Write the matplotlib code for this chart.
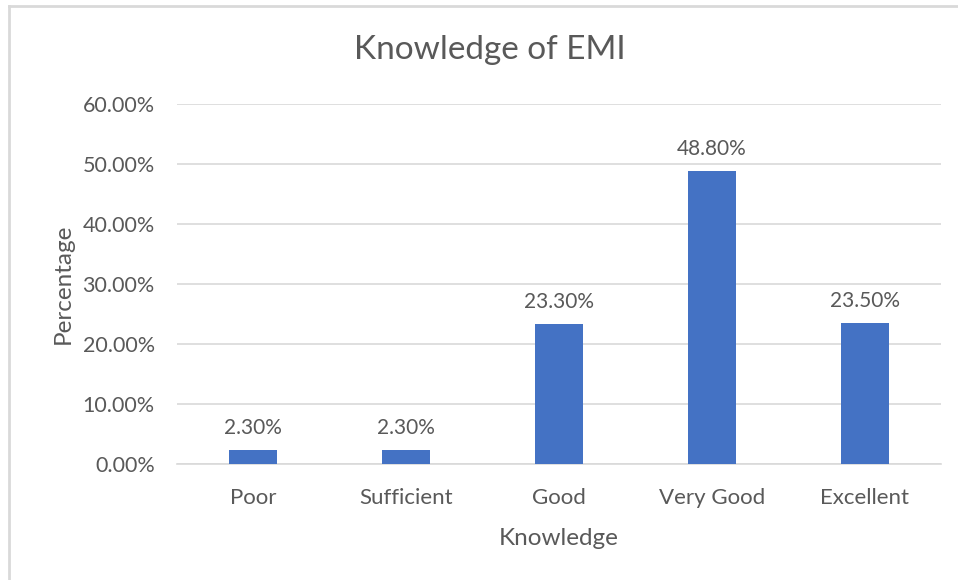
import matplotlib.pyplot as plt
from matplotlib.lines import Line2D
from matplotlib.ticker import FuncFormatter

categories = ["Poor", "Sufficient", "Good", "Very Good", "Excellent"]
values = [2.3, 2.3, 23.3, 48.8, 23.5]
yticks = [0, 10, 20, 30, 40, 50, 60]

plt.rcParams['font.family'] = ['Lato', 'DejaVu Sans']
grey = '#595959'

fig = plt.figure(figsize=(9.58, 5.8), dpi=100)
ax = fig.add_axes([177 / 958, 1 - 464 / 580, (941 - 177) / 958, (464 - 104) / 580])

x = range(len(categories))
bars = ax.bar(x, values, width=0.314, color='#4472C4', zorder=3)
for b, v in zip(bars, values):
    ax.text(b.get_x() + b.get_width() / 2, v + 2.0, f"{v:.2f}%",
            ha='center', va='bottom', fontsize=15, color=grey)

ax.set_xlim(-0.5, len(categories) - 0.5)
ax.set_ylim(0, 60)
ax.set_yticks(yticks)
ax.yaxis.set_major_formatter(FuncFormatter(lambda v, p: f"{v:.2f}%"))
ax.set_xticks(list(x))
ax.set_xticklabels(categories)
ax.tick_params(axis='both', length=0, labelsize=15.5, colors=grey)
ax.tick_params(axis='x', labelsize=16, pad=17)
ax.tick_params(axis='y', pad=16)
ax.grid(axis='y', color='#d9d9d9', lw=1.2, zorder=0)
for s in ['top', 'right', 'left']:
    ax.spines[s].set_visible(False)
ax.spines['bottom'].set_color('#d9d9d9')
ax.spines['bottom'].set_linewidth(1.2)

ax.set_xlabel("Knowledge", fontsize=17.5, color=grey, labelpad=15)
ax.set_ylabel("Percentage", fontsize=17.5, color=grey, labelpad=6)
fig.text(490 / 958, 1 - 50 / 580, "Knowledge of EMI", ha='center', va='center',
         fontsize=24, color=grey)

# chart frame (left and top edges visible)
fig.add_artist(Line2D([9 / 958, 9 / 958], [0, 1 - 6 / 580], color='#d9d9d9', lw=2))
fig.add_artist(Line2D([9 / 958, 1], [1 - 6 / 580, 1 - 6 / 580], color='#d9d9d9', lw=2))

fig.savefig("out.png", dpi=100)
